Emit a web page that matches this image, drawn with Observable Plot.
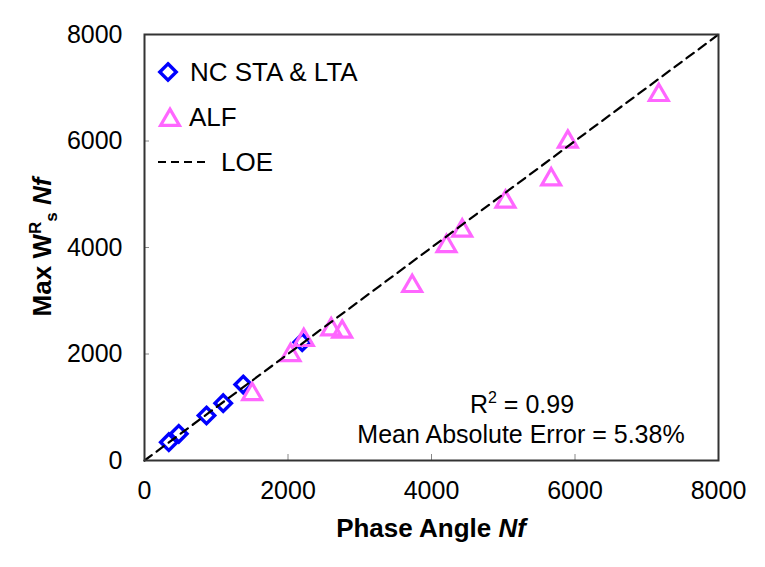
<!DOCTYPE html>
<html>
<head>
<meta charset="utf-8">
<script src="https://cdn.jsdelivr.net/npm/d3@7"></script>
<script src="https://cdn.jsdelivr.net/npm/@observablehq/plot@0.6"></script>
<style>
  body { margin: 0; background: #fff; }
  #chart { position: relative; width: 765px; height: 567px; }
  svg { display: block; }
</style>
</head>
<body>
<div id="chart"></div>
<script>
// Number of cycles to failure: phase-angle criterion (x) vs. max W^R_s criterion (y)
const ncX  = [339, 478, 864, 1097, 1376, 2198];
const ncY  = [344, 501, 845, 1077, 1427, 2222];
const alfX = [1501, 2035, 2220, 2602, 2755, 3731, 4209, 4428, 5031, 5668, 5900, 7168];
const alfY = [1301, 2034, 2316, 2516, 2473, 3330, 4081, 4370, 4914, 5333, 6041, 6917];
const loe  = [0, 8000];            // line of equality end points
const axisTicks = [0, 2000, 4000, 6000, 8000];
const seriesNames = ["NC STA & LTA", "ALF", "LOE"];
const rSquared = "0.99";
const meanAbsError = "5.38%";

const nc  = ncX.map((x, i) => ({x, y: ncY[i]}));
const alf = alfX.map((x, i) => ({x, y: alfY[i]}));
const loeLine = loe.map(v => ({x: v, y: v}));

const W = 765, H = 567;
const mL = 144, mR = 47, mT = 34, mB = 107;
const innerW = W - mL - mR, innerH = H - mT - mB;
const blue = "#0000ff", pink = "#ff66ff";
const font = "'Liberation Sans', Arial, sans-serif";
const tickFont = 25, textFont = 26;

const chart = Plot.plot({
  width: W, height: H,
  marginLeft: mL, marginRight: mR, marginTop: mT, marginBottom: mB,
  style: {fontFamily: font, fontSize: `${tickFont}px`, color: "#000", background: "#fff"},
  x: {domain: [0, 8000], label: null},
  y: {domain: [0, 8000], label: null},
  marks: [
    Plot.axisX(axisTicks, {tickSize: 0, tickPadding: 21, fontSize: tickFont, label: null, tickFormat: d => String(d)}),
    Plot.axisY(axisTicks, {tickSize: 0, tickPadding: 22, fontSize: tickFont, label: null, tickFormat: d => String(d)}),
    // inward tick marks
    Plot.tickY(axisTicks, {y: d => d, stroke: "#888", strokeWidth: 1, insetRight: innerW - 5}),
    Plot.tickX(axisTicks, {x: d => d, stroke: "#888", strokeWidth: 1, insetTop: innerH - 6}),
    Plot.dot(nc, {x: "x", y: "y", symbol: "diamond2", r: 7.4, stroke: blue, strokeWidth: 3.4, fill: "none"}),
    Plot.dot(alf, {x: "x", y: "y", symbol: "triangle2", r: 9, stroke: pink, strokeWidth: 3.2, fill: "none", dy: 2.9}),
    Plot.line(loeLine, {x: "x", y: "y", stroke: "#000", strokeWidth: 2.2, strokeDasharray: "9,6"}),
    Plot.frame({stroke: "#333", strokeWidth: 2})
  ]
});
document.getElementById("chart").appendChild(chart);

const svg = d3.select(chart);

// axis titles
const xt = svg.append("text")
  .attr("x", mL + innerW / 2).attr("y", 537)
  .attr("text-anchor", "middle").attr("font-weight", "bold")
  .attr("font-size", textFont).attr("font-family", font);
xt.append("tspan").text("Phase Angle ");
xt.append("tspan").attr("font-style", "italic").text("Nf");

const yt = svg.append("text")
  .attr("transform", `translate(51,${mT + innerH / 2}) rotate(-90)`)
  .attr("text-anchor", "middle").attr("font-weight", "bold")
  .attr("font-size", textFont).attr("font-family", font);
yt.append("tspan").text("Max W");
yt.append("tspan").attr("font-size", 17).attr("dy", -10).text("R");
yt.append("tspan").attr("font-size", 17).attr("dy", 16).text("s");
yt.append("tspan").attr("dy", -6).text(" ");
yt.append("tspan").attr("font-style", "italic").text("Nf");

// legend
const lg = svg.append("g").attr("font-family", font).attr("font-size", textFont).attr("text-anchor", "start");
lg.append("path")
  .attr("transform", "translate(168,72)")
  .attr("d", d3.symbol(d3.symbolDiamond2, Math.PI * 7.4 * 7.4)())
  .attr("fill", "none").attr("stroke", blue).attr("stroke-width", 3.4);
lg.append("text").attr("x", 190).attr("y", 81).text(seriesNames[0]);
lg.append("path")
  .attr("transform", "translate(170,120)")
  .attr("d", d3.symbol(d3.symbolTriangle2, Math.PI * 9 * 9)())
  .attr("fill", "none").attr("stroke", pink).attr("stroke-width", 3.2);
lg.append("text").attr("x", 189).attr("y", 126).text(seriesNames[1]);
lg.append("line")
  .attr("x1", 158).attr("x2", 206).attr("y1", 162).attr("y2", 162)
  .attr("stroke", "#000").attr("stroke-width", 2).attr("stroke-dasharray", "8,5");
lg.append("text").attr("x", 221).attr("y", 171).text(seriesNames[2]);

// fit statistics
const st = svg.append("g").attr("font-family", font).attr("font-size", 25).attr("text-anchor", "middle");
const r2 = st.append("text").attr("x", 522).attr("y", 413);
r2.append("tspan").text("R");
r2.append("tspan").attr("font-size", 16).attr("dy", -10).text("2");
r2.append("tspan").attr("dy", 10).text(" = " + rSquared);
st.append("text").attr("x", 521).attr("y", 443).text("Mean Absolute Error = " + meanAbsError);
</script>
</body>
</html>
